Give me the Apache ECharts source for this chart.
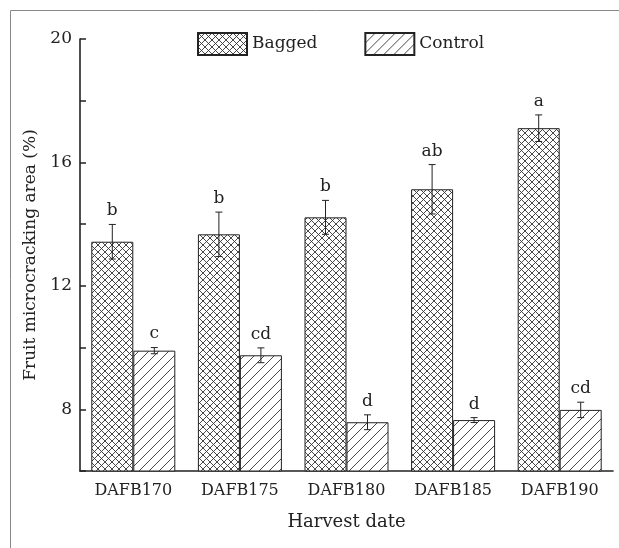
<!DOCTYPE html>
<html>
<head>
<meta charset="utf-8">
<script src="https://cdn.jsdelivr.net/npm/echarts@6/dist/echarts.min.js"></script>
<style>
html,body{margin:0;padding:0;background:#fff;}
#chart{width:619px;height:548px;}
</style>
</head>
<body>
<div id="chart"></div>
<script>
const categories = ['DAFB170', 'DAFB175', 'DAFB180', 'DAFB185', 'DAFB190'];
const bagged = [13.43, 13.67, 14.22, 15.13, 17.11];
const baggedErr = [0.56, 0.72, 0.55, 0.80, 0.43];
const control = [9.90, 9.75, 7.58, 7.65, 7.98];
const controlErr = [0.10, 0.24, 0.24, 0.08, 0.25];
const baggedLetters = ['b', 'b', 'b', 'ab', 'a'];
const controlLetters = ['c', 'cd', 'd', 'd', 'cd'];
const yLabelValues = [8, 12, 16, 20];

const FONT = 'DejaVu Serif';
const INK = '#222';

function crossPattern() {
  const s = 7;
  const c = document.createElement('canvas');
  c.width = s; c.height = s;
  const g = c.getContext('2d');
  g.fillStyle = '#fff'; g.fillRect(0, 0, s, s);
  g.strokeStyle = '#333'; g.lineWidth = 0.9;
  g.beginPath();
  g.moveTo(-1, -1); g.lineTo(s + 1, s + 1);
  g.moveTo(-1, s + 1); g.lineTo(s + 1, -1);
  g.stroke();
  return c;
}
function hatchPattern() {
  const s = 10;
  const c = document.createElement('canvas');
  c.width = s; c.height = s;
  const g = c.getContext('2d');
  g.fillStyle = '#fff'; g.fillRect(0, 0, s, s);
  g.strokeStyle = '#333'; g.lineWidth = 0.9;
  g.beginPath();
  g.moveTo(-1, s + 1); g.lineTo(s + 1, -1);
  g.moveTo(-1, 1); g.lineTo(1, -1);
  g.moveTo(s - 1, s + 1); g.lineTo(s + 1, s - 1);
  g.stroke();
  return c;
}
const crossFill = { image: crossPattern(), repeat: 'repeat' };
const hatchFill = { image: hatchPattern(), repeat: 'repeat' };

const BAR_W = 42;

function errRender(offset, letters) {
  return function (params, api) {
    const x = api.coord([api.value(0), 0])[0] + offset;
    const m = api.value(1), e = api.value(2);
    const top = api.coord([api.value(0), m + e])[1];
    const bot = api.coord([api.value(0), m - e])[1];
    const cap = 3.5;
    const st = { stroke: INK, lineWidth: 1 };
    return {
      type: 'group',
      children: [
        { type: 'line', shape: { x1: x, y1: top, x2: x, y2: bot }, style: st },
        { type: 'line', shape: { x1: x - cap, y1: top, x2: x + cap, y2: top }, style: st },
        { type: 'line', shape: { x1: x - cap, y1: bot, x2: x + cap, y2: bot }, style: st },
        { type: 'text', style: { text: letters[params.dataIndex], x: x, y: top - 5, align: 'center', verticalAlign: 'bottom', fill: INK, font: '17px "' + FONT + '"' } }
      ]
    };
  };
}

const chart = echarts.init(document.getElementById('chart'), null, { renderer: 'canvas' });
chart.setOption({
  animation: false,
  backgroundColor: '#fff',
  textStyle: { fontFamily: FONT, color: INK },
  graphic: [{
    type: 'rect', silent: true,
    shape: { x: 10.5, y: 10.5, width: 700, height: 700 },
    style: { fill: 'none', stroke: '#888', lineWidth: 1 }
  }],
  legend: {
    data: ['Bagged', 'Control'],
    icon: 'rect',
    left: 197, top: 32, padding: 0,
    itemWidth: 49, itemHeight: 22,
    itemGap: 47,
    textStyle: { fontFamily: FONT, fontSize: 17, color: INK }
  },
  grid: { left: 80, right: 6, top: 39, bottom: 77, containLabel: false },
  xAxis: {
    type: 'category',
    data: categories,
    name: 'Harvest date',
    nameLocation: 'middle',
    nameGap: 42,
    nameTextStyle: { fontFamily: FONT, fontSize: 18, color: INK },
    axisLine: { lineStyle: { color: INK, width: 1.6 } },
    axisTick: { inside: false, length: -4, lineStyle: { color: INK, width: 1.5 } },
    axisLabel: { margin: 12, fontFamily: FONT, fontSize: 16, color: INK }
  },
  yAxis: {
    type: 'value',
    min: 6, max: 20, interval: 2,
    name: 'Fruit microcracking area (%)',
    nameLocation: 'middle',
    nameGap: 40,
    nameTextStyle: { fontFamily: FONT, fontSize: 17, color: INK },
    axisLine: { show: true, lineStyle: { color: INK, width: 1.6 } },
    axisTick: { show: true, inside: false, length: -6, lineStyle: { color: INK, width: 1.5 } },
    axisLabel: {
      margin: 8, fontFamily: FONT, fontSize: 17, color: INK,
      formatter: function (v) { return yLabelValues.indexOf(v) >= 0 ? String(v) : ''; }
    },
    splitLine: { show: false }
  },
  series: [{
    name: 'Bagged', type: 'bar', data: bagged,
    barWidth: BAR_W, barGap: '0%',
    itemStyle: { color: crossFill, borderColor: INK, borderWidth: 1 },
    z: 2
  }, {
    name: 'Control', type: 'bar', data: control,
    barWidth: BAR_W, barGap: '0%',
    itemStyle: { color: hatchFill, borderColor: INK, borderWidth: 1 },
    z: 2
  }, {
    type: 'custom', name: 'BaggedErr',
    renderItem: errRender(-BAR_W / 2, baggedLetters),
    data: bagged.map((v, i) => [i, v, baggedErr[i]]),
    z: 5
  }, {
    type: 'custom', name: 'ControlErr',
    renderItem: errRender(BAR_W / 2, controlLetters),
    data: control.map((v, i) => [i, v, controlErr[i]]),
    z: 5
  }]
});
</script>
</body>
</html>
